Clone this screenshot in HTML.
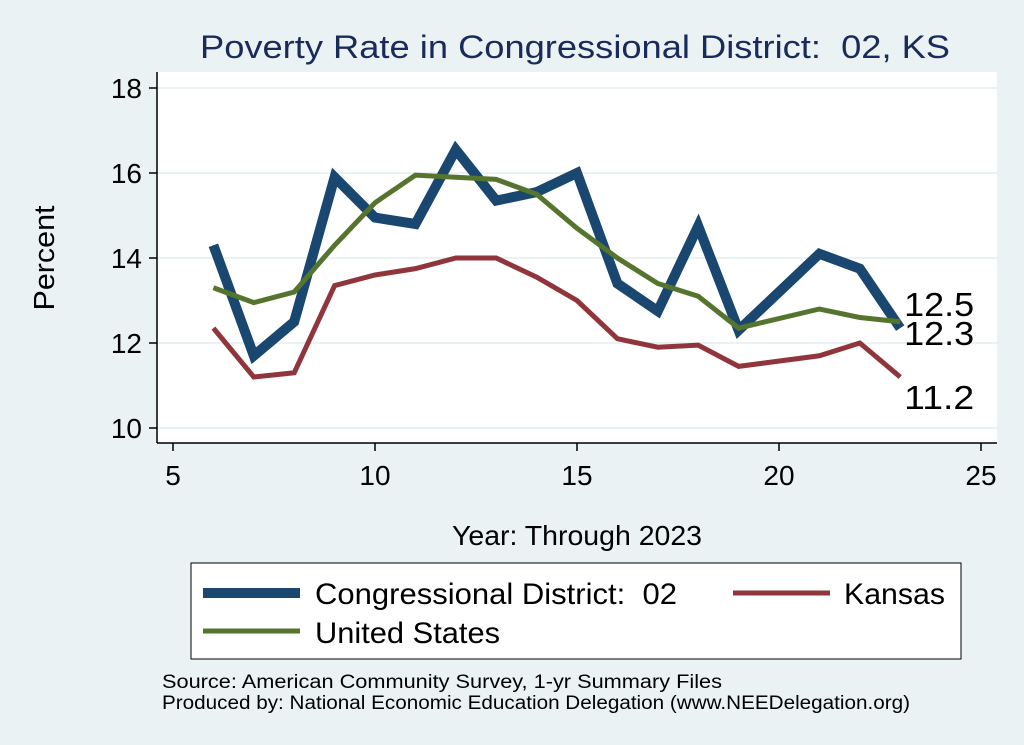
<!DOCTYPE html>
<html><head><meta charset="utf-8"><style>
body{margin:0;background:#eaf2f3;}
svg{display:block;font-family:"Liberation Sans",Arial,sans-serif;}
</style></head><body>
<svg id="chart" width="1024" height="745" viewBox="0 0 1024 745">
<rect x="0" y="0" width="1024" height="745" fill="#eaf2f3"/>
<text x="200" y="58" font-size="32" fill="#1a2a5a" textLength="750" lengthAdjust="spacingAndGlyphs">Poverty Rate in Congressional District:&#160; 02, KS</text>
<rect x="157" y="72" width="840" height="371" fill="#fff"/>
<g id="grid"></g>
<g id="axes"></g>
<g id="series"></g>
<text x="54" y="258" font-size="29" fill="#000" text-anchor="middle" textLength="105" lengthAdjust="spacingAndGlyphs" transform="rotate(-90 54 258)">Percent</text>
<text x="452" y="545" font-size="28" fill="#000" textLength="250" lengthAdjust="spacingAndGlyphs">Year: Through 2023</text>
<g>
<rect x="191" y="563" width="770" height="96" fill="#fff" stroke="#000" stroke-width="1"/>
<line x1="203" y1="593" x2="300" y2="593" stroke="#1a476f" stroke-width="10"/>
<text x="315" y="604" font-size="30" textLength="362" lengthAdjust="spacingAndGlyphs">Congressional District:&#160; 02</text>
<line x1="733" y1="593" x2="830" y2="593" stroke="#90353b" stroke-width="5"/>
<text x="844" y="604" font-size="30" textLength="101" lengthAdjust="spacingAndGlyphs">Kansas</text>
<line x1="203" y1="631" x2="300" y2="631" stroke="#55752f" stroke-width="5"/>
<text x="315" y="643" font-size="30" textLength="185" lengthAdjust="spacingAndGlyphs">United States</text>
</g>
<text x="162" y="688" font-size="19" textLength="560" lengthAdjust="spacingAndGlyphs">Source: American Community Survey, 1-yr Summary Files</text>
<text x="162" y="709" font-size="19" textLength="748" lengthAdjust="spacingAndGlyphs">Produced by: National Economic Education Delegation (www.NEEDelegation.org)</text>
</svg>
<script>
const years=[6,7,8,9,10,11,12,13,14,15,16,17,18,19,21,22,23];
const district=[14.3,11.7,12.5,15.9,14.95,14.8,16.55,15.35,15.55,16.0,13.4,12.75,14.75,12.3,14.1,13.75,12.35];
const kansas=[12.35,11.2,11.3,13.35,13.6,13.75,14.0,14.0,13.55,13.0,12.1,11.9,11.95,11.45,11.7,12.0,11.2];
const us=[13.3,12.95,13.2,14.3,15.3,15.95,15.9,15.85,15.5,14.7,14.0,13.4,13.1,12.35,12.8,12.6,12.5];
const xTicks=[5,10,15,20,25];
const yTicks=[10,12,14,16,18];
const endLabels=["12.5","12.3","11.2"];
const NS="http://www.w3.org/2000/svg";
const xs=v=>173+(v-5)*(981-173)/20;
const ys=v=>428-(v-10)*(428-88)/8;
function mk(t,a,p){const e=document.createElementNS(NS,t);for(const k in a)e.setAttribute(k,a[k]);p.appendChild(e);return e;}
const grid=document.getElementById('grid'),axes=document.getElementById('axes'),ser=document.getElementById('series');
yTicks.forEach(v=>{
 const g=mk('line',{x1:157,x2:997,y1:ys(v),y2:ys(v),stroke:'#eaf2f3','stroke-width':2},grid);
 
 
 const t=mk('line',{x1:149,x2:157,y1:ys(v),y2:ys(v),stroke:'#000','stroke-width':1.5},axes);
 
 
 const l=mk('text',{x:142,y:ys(v)+10,'font-size':28,'text-anchor':'end'},axes);l.textContent=v;
 
 
});
mk('line',{x1:157,x2:157,y1:72,y2:443,stroke:'#000','stroke-width':1.5},axes);
mk('line',{x1:157,x2:997,y1:443,y2:443,stroke:'#000','stroke-width':1.5},axes);
xTicks.forEach(v=>{
 const t=mk('line',{x1:xs(v),x2:xs(v),y1:443,y2:451,stroke:'#000','stroke-width':1.5},axes);
 
 
 const l=mk('text',{x:xs(v),y:485,'font-size':28,'text-anchor':'middle'},axes);l.textContent=v;
 
 
});
function line(data,color,w,name){
 const p=mk('polyline',{points:years.map((y,i)=>xs(y)+','+ys(data[i])).join(' '),fill:'none',stroke:color,'stroke-width':w,'stroke-linejoin':'miter'},ser);
 
 
}
line(kansas,'#90353b',5,'line-kansas');
line(district,'#1a476f',10,'line-district');
line(us,'#55752f',5,'line-us');
const lx=xs(23)+4;
[[us,endLabels[0],-6],[district,endLabels[1],17],[kansas,endLabels[2],32]].forEach(([d,txt,dy],i)=>{
 const t=mk('text',{x:lx,y:ys(d[d.length-1])+dy,'font-size':33,textLength:70,lengthAdjust:'spacingAndGlyphs'},ser);t.textContent=txt;
 
 
});
</script>
</body></html>
